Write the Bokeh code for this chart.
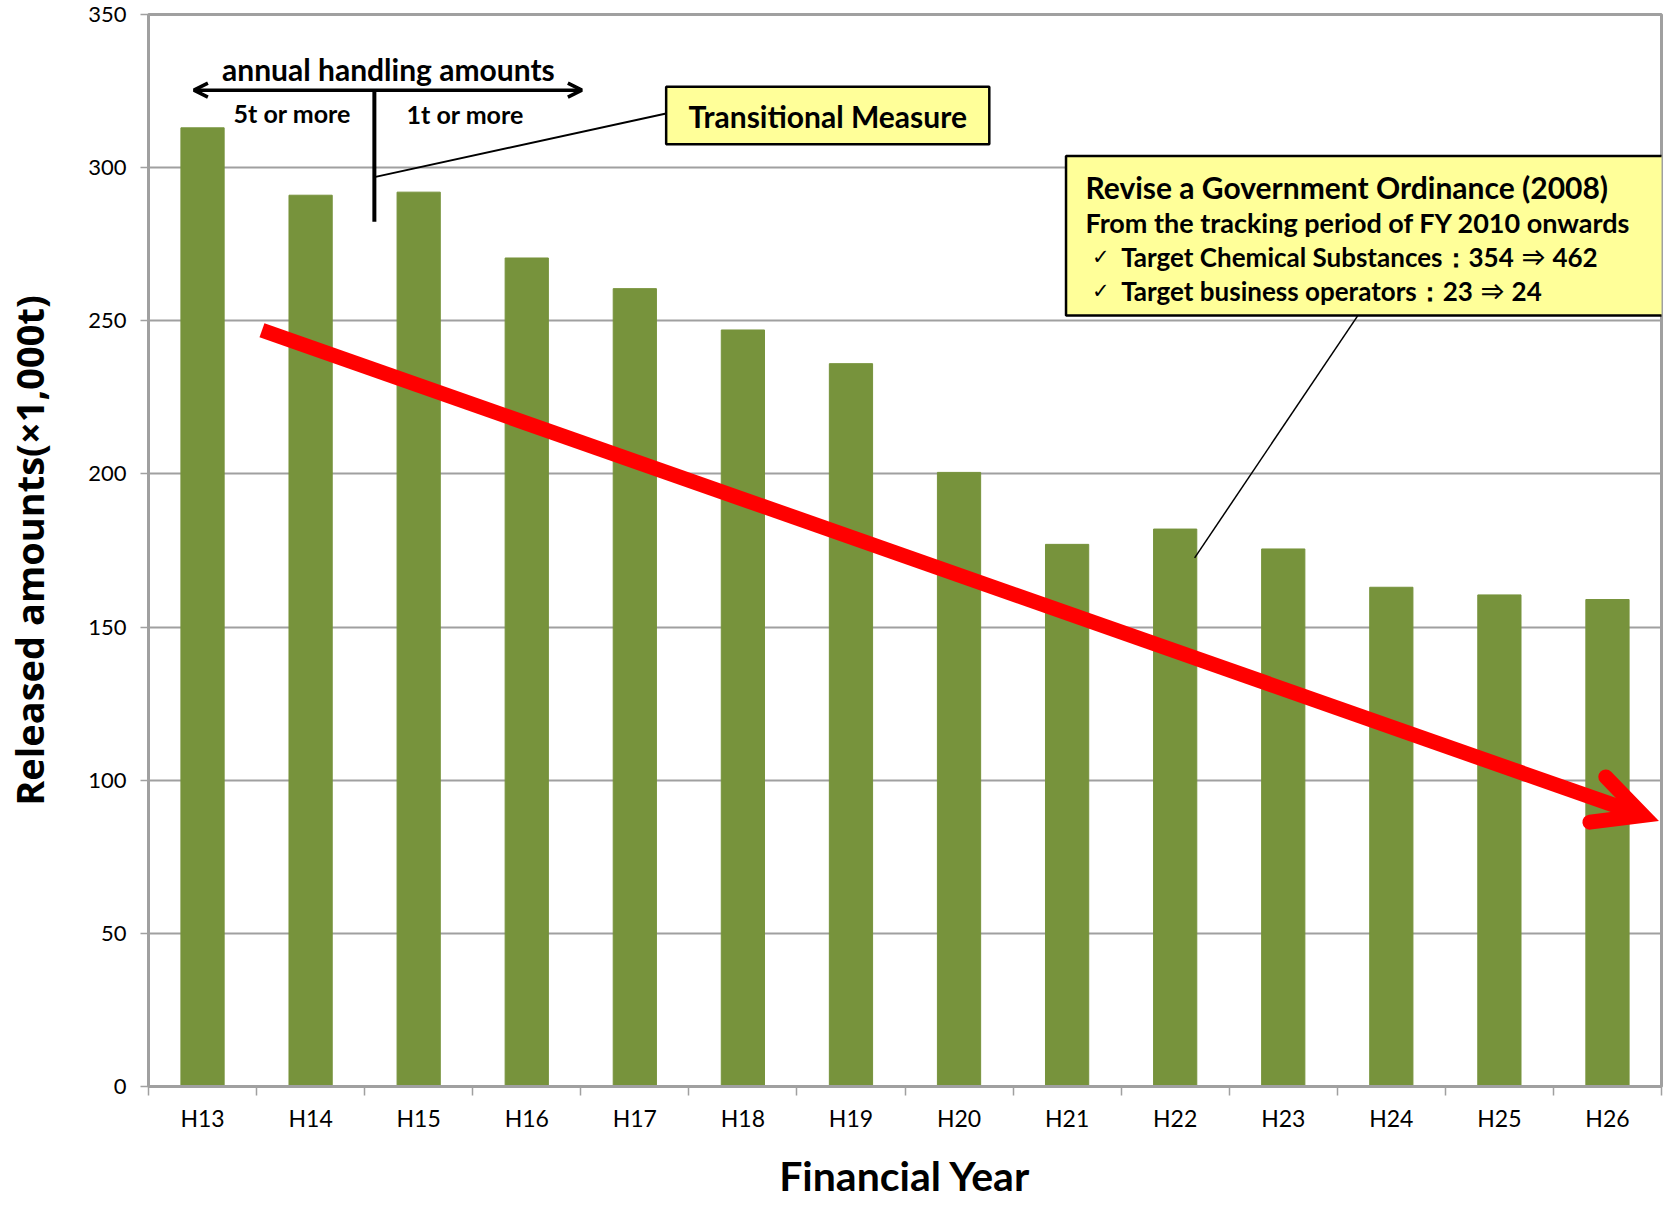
from bokeh.plotting import figure
from bokeh.models import (Range1d, LinearAxis, FixedTicker, Arrow, OpenHead, Label,
                          BoxAnnotation)
from bokeh.embed import file_html
from bokeh.resources import INLINE

# ---- data ----
years = ["H13", "H14", "H15", "H16", "H17", "H18", "H19",
         "H20", "H21", "H22", "H23", "H24", "H25", "H26"]
released = [313, 291, 292, 270.5, 260.5, 247, 236,
            200.5, 177, 182, 175.5, 163, 160.5, 159]
y_ticks = [0, 50, 100, 150, 200, 250, 300, 350]

centers = [i + 0.5 for i in range(len(years))]
bounds = list(range(len(years) + 1))

FONT = "Lato"
GRAY = "#A0A0A0"

p = figure(width=1664, height=1210, output_backend="svg", toolbar_location=None,
           x_range=Range1d(0, len(years)), y_range=Range1d(0, 350),
           x_axis_location=None, y_axis_location=None,
           min_border_left=147, min_border_right=3, min_border_top=14, min_border_bottom=124)
p.background_fill_color = "white"
p.border_fill_color = "white"
p.outline_line_color = GRAY
p.outline_line_width = 3

# axes
xaxis = LinearAxis(ticker=FixedTicker(ticks=centers, minor_ticks=bounds),
                   major_label_overrides={c: y for c, y in zip(centers, years)})
xaxis.axis_line_color = GRAY
xaxis.axis_line_width = 3
xaxis.major_tick_line_color = None
xaxis.major_tick_out = 0
xaxis.major_tick_in = 0
xaxis.minor_tick_line_color = GRAY
xaxis.minor_tick_line_width = 1.5
xaxis.minor_tick_out = 9
xaxis.minor_tick_in = 0
xaxis.major_label_standoff = 8
xaxis.major_label_text_font = FONT
xaxis.major_label_text_font_size = "23px"
xaxis.major_label_text_color = "black"
xaxis.axis_label = "Financial Year"
xaxis.axis_label_text_font = FONT
xaxis.axis_label_text_font_style = "bold"
xaxis.axis_label_text_font_size = "41px"
xaxis.axis_label_text_color = "black"
xaxis.axis_label_standoff = 16
p.add_layout(xaxis, "below")

yaxis = LinearAxis(ticker=FixedTicker(ticks=y_ticks))
yaxis.axis_line_color = GRAY
yaxis.axis_line_width = 3
yaxis.major_tick_line_color = GRAY
yaxis.major_tick_line_width = 1.5
yaxis.major_tick_out = 8
yaxis.major_tick_in = 0
yaxis.minor_tick_line_color = None
yaxis.major_label_standoff = 14
yaxis.major_label_text_font = FONT
yaxis.major_label_text_font_size = "22px"
yaxis.major_label_text_color = "black"
yaxis.axis_label = "Released amounts(×1,000t)"
yaxis.axis_label_text_font = "Open Sans"
yaxis.axis_label_text_font_style = "bold"
yaxis.axis_label_text_font_size = "38px"
yaxis.axis_label_text_color = "black"
yaxis.axis_label_standoff = 30
p.add_layout(yaxis, "left")

p.xgrid.visible = False
p.ygrid.ticker = FixedTicker(ticks=y_ticks)
p.ygrid.grid_line_color = GRAY
p.ygrid.grid_line_width = 1.8

# bars
p.vbar(x=centers, top=released, width=0.4, bottom=0, fill_color="#77933C",
       line_color="#77933C")

# annual handling amounts double arrow
p.add_layout(Arrow(x_start=0.42, y_start=325.3, x_end=4.01, y_end=325.3,
                   line_color="black", line_width=3.5,
                   start=OpenHead(line_color="black", line_width=3.5, size=14),
                   end=OpenHead(line_color="black", line_width=3.5, size=14)))
p.segment(x0=[2.09], y0=[325.3], x1=[2.09], y1=[282.3], line_color="black", line_width=4)
p.add_layout(Label(x=2.22, y=326.3, text="annual handling amounts", text_font=FONT,
                   text_font_style="bold", text_font_size="30px", text_align="center",
                   text_baseline="bottom", text_color="black"))
p.add_layout(Label(x=1.33, y=318, text="5t or more", text_font=FONT,
                   text_font_style="bold", text_font_size="25px", text_align="center",
                   text_baseline="middle", text_color="black"))
p.add_layout(Label(x=2.93, y=317.4, text="1t or more", text_font=FONT,
                   text_font_style="bold", text_font_size="25px", text_align="center",
                   text_baseline="middle", text_color="black"))

# Transitional Measure box
p.segment(x0=[2.09], y0=[296.9], x1=[4.79], y1=[317.7], line_color="black", line_width=2)
p.add_layout(BoxAnnotation(left=4.79, right=7.78, bottom=307.6, top=326.4,
                           fill_color="#FFFF99", fill_alpha=1, line_color="black",
                           line_width=2.5, line_alpha=1))
p.add_layout(Label(x=6.285, y=317, text="Transitional Measure", text_font=FONT,
                   text_font_style="bold", text_font_size="30px", text_align="center",
                   text_baseline="middle", text_color="black"))

# Government ordinance box
p.segment(x0=[11.19], y0=[251.7], x1=[9.68], y1=[172.6], line_color="black", line_width=1.5)
p.add_layout(BoxAnnotation(left=8.49, right=14.2, bottom=251.7, top=303.8,
                           fill_color="#FFFF99", fill_alpha=1, line_color="black",
                           line_width=2.5, line_alpha=1))
box_lines = [
    (8.67, 293.8, "Revise a Government Ordinance (2008)", "30px"),
    (8.67, 282.0, "From the tracking period of FY 2010 onwards", "27px"),
    (9.0, 270.8, "Target Chemical Substances\uff1a354 \u21d2 462", "26px"),
    (9.0, 259.7, "Target business operators\uff1a23 \u21d2 24", "26px"),
]
for x, y, t, fs in box_lines:
    p.add_layout(Label(x=x, y=y, text=t, text_font=FONT, text_font_style="bold",
                       text_font_size=fs, text_align="left", text_baseline="middle",
                       text_color="black"))
for y in (270.8, 259.7):
    p.add_layout(Label(x=8.73, y=y, text="\u2713", text_font="DejaVu Sans",
                       text_font_size="21px", text_align="left", text_baseline="middle",
                       text_color="black"))

# red trend arrow
p.add_layout(Arrow(x_start=1.05, y_start=246.9, x_end=13.83, y_end=88.5,
                   line_color="#FF0000", line_width=15,
                   end=OpenHead(line_color="#FF0000", line_width=15, size=48,
                                line_cap="round", line_join="miter")))

open("out.html", "w").write(file_html(p, INLINE))
